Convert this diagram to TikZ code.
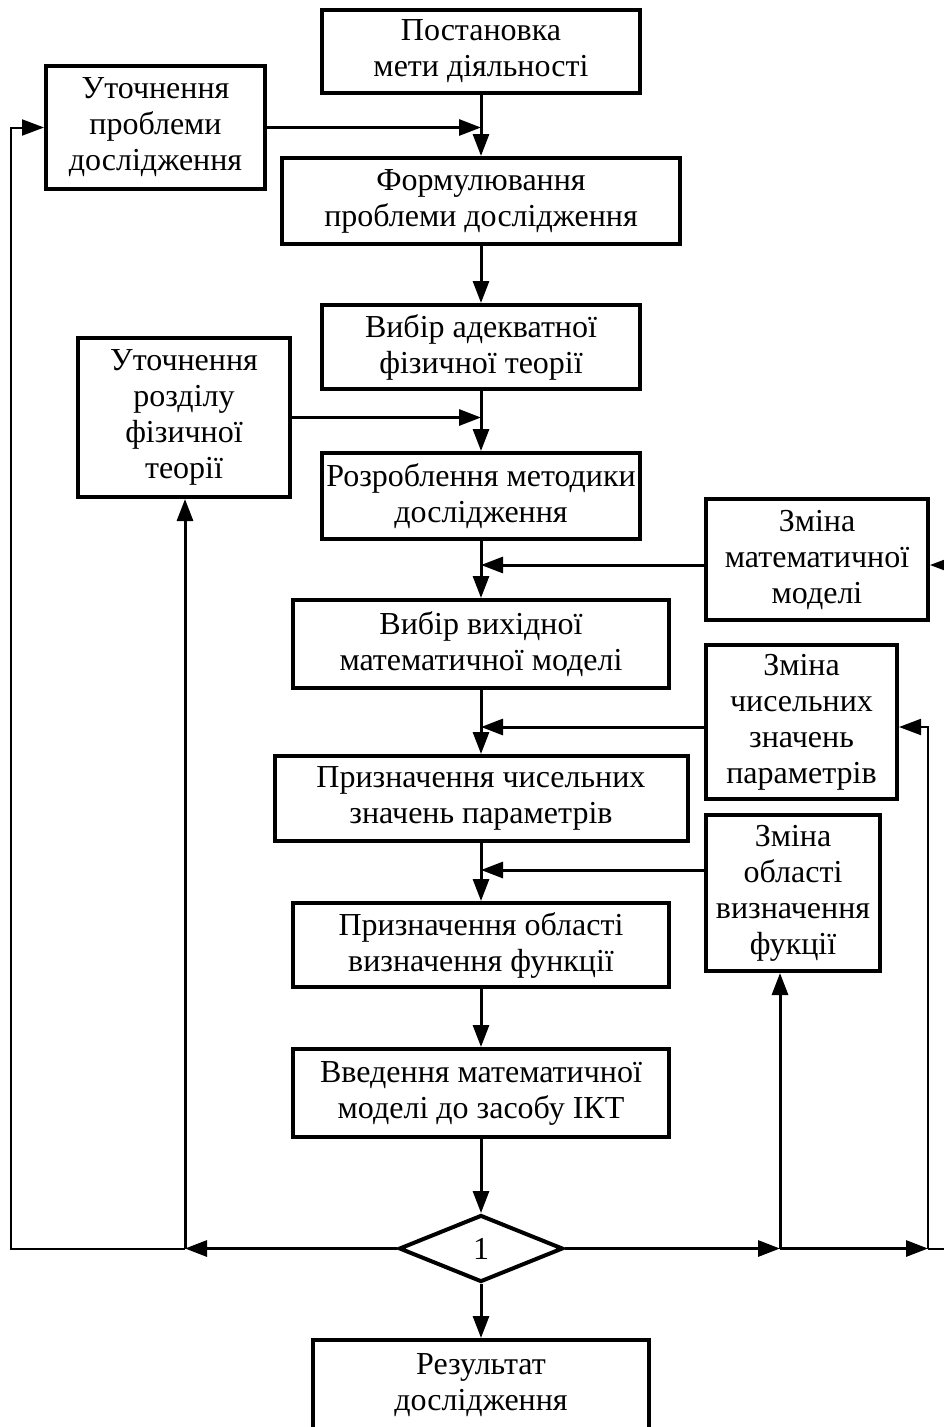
\documentclass[tikz,border=0pt]{standalone}
\usepackage{fontspec}
\setmainfont{Liberation Serif}
\usetikzlibrary{arrows.meta,shapes.geometric}
\begin{document}
\begin{tikzpicture}[x=1pt,y=-1pt,
  box/.style={draw,line width=4pt,align=center,inner sep=0pt,font=\fontsize{32}{36}\selectfont},
  dbox/.style={draw,diamond,line width=4pt,inner sep=0pt,font=\fontsize{32}{36}\selectfont},
  conn/.style={line width=3pt,-{Triangle[length=22pt,width=16pt]}},
  thinconn/.style={line width=2pt,-{Triangle[length=22pt,width=16pt]}},
  thinline/.style={line width=2pt}]
\useasboundingbox (0,0) rectangle (944,1427);
\clip (0,0) rectangle (944,1427);
\node[box,minimum width=318pt,minimum height=83pt] (top) at (481,51.5) {Постановка\\мети діяльності};
\node[box,minimum width=219pt,minimum height=123pt] (ut1) at (155.5,127.5) {Уточнення\\проблеми\\дослідження};
\node[box,minimum width=398pt,minimum height=86pt] (form) at (481,201) {Формулювання\\проблеми дослідження};
\node[box,minimum width=318pt,minimum height=84pt] (vyb) at (481,347) {Вибір адекватної\\фізичної теорії};
\node[box,minimum width=212pt,minimum height=159pt] (ut2) at (184,417.5) {Уточнення\\розділу\\фізичної\\теорії};
\node[box,minimum width=318pt,minimum height=86pt] (rozr) at (481,496) {Розроблення методики\\дослідження};
\node[box,minimum width=222pt,minimum height=121pt] (zm1) at (817,559.5) {Зміна\\математичної\\моделі};
\node[box,minimum width=376pt,minimum height=88pt] (vyh) at (481,644) {Вибір вихідної\\математичної моделі};
\node[box,minimum width=191pt,minimum height=154pt] (zm2) at (801.5,722) {Зміна\\чисельних\\значень\\параметрів};
\node[box,minimum width=413pt,minimum height=85pt] (chys) at (481,798.5) {Призначення чисельних\\значень параметрів};
\node[box,minimum width=174pt,minimum height=156pt] (zm3) at (793,893) {Зміна\\області\\визначення\\фукції};
\node[box,minimum width=376pt,minimum height=84pt] (obl) at (481,945) {Призначення області\\визначення функції};
\node[box,minimum width=376pt,minimum height=88pt] (vved) at (481,1093) {Введення математичної\\моделі до засобу ІКТ};
\node[dbox,minimum width=164pt,minimum height=67pt] (dia) at (481,1248.5) {1};
\node[box,minimum width=336pt,minimum height=90pt] (res) at (481,1385) {Результат\\дослідження};

\coordinate (jl) at (185,1248.5);
\coordinate (lx) at (11,1248.5);
\coordinate (jr1) at (780,1248.5);
\coordinate (jr2) at (928,1248.5);
\coordinate (edge) at (944,1248.5);
\coordinate (redge) at (944,565);

\draw[conn] (top) -- (form);
\draw[conn] (ut1.east) -- (ut1.east -| top.south);
\draw[conn] (form) -- (vyb);
\draw[conn] (vyb) -- (rozr);
\draw[conn] (ut2.east) -- (ut2.east -| vyb.south);
\draw[conn] (rozr) -- (vyh);
\draw[conn] ([yshift=-5.5pt]zm1.west) -- ([yshift=-5.5pt]zm1.west -| rozr.south);
\draw[conn] (vyh) -- (chys);
\draw[conn] ([yshift=-5pt]zm2.west) -- ([yshift=-5pt]zm2.west -| vyh.south);
\draw[conn] (chys) -- (obl);
\draw[conn] ([yshift=23pt]zm3.west) -- ([yshift=23pt]zm3.west -| chys.south);
\draw[conn] (obl) -- (vved);
\draw[conn] (vved) -- (dia);
\draw[conn] (dia) -- (res);
\draw[conn] (dia.west) -- (jl);
\draw[thinconn] (jl) -- (lx) |- (ut1.west);
\draw[conn] (jl) -- (ut2.south -| jl);
\draw[conn] (dia.east) -- (jr1);
\draw[conn] (jr1) -- (jr2);
\draw[thinline] (jr2) -- (edge);
\draw[conn] (jr1) -- (jr1 |- zm3.south);
\draw[thinconn] (jr2) |- ([yshift=-5pt]zm2.east);
\draw[thinconn] (redge) -- (redge -| zm1.east);
\end{tikzpicture}
\end{document}
